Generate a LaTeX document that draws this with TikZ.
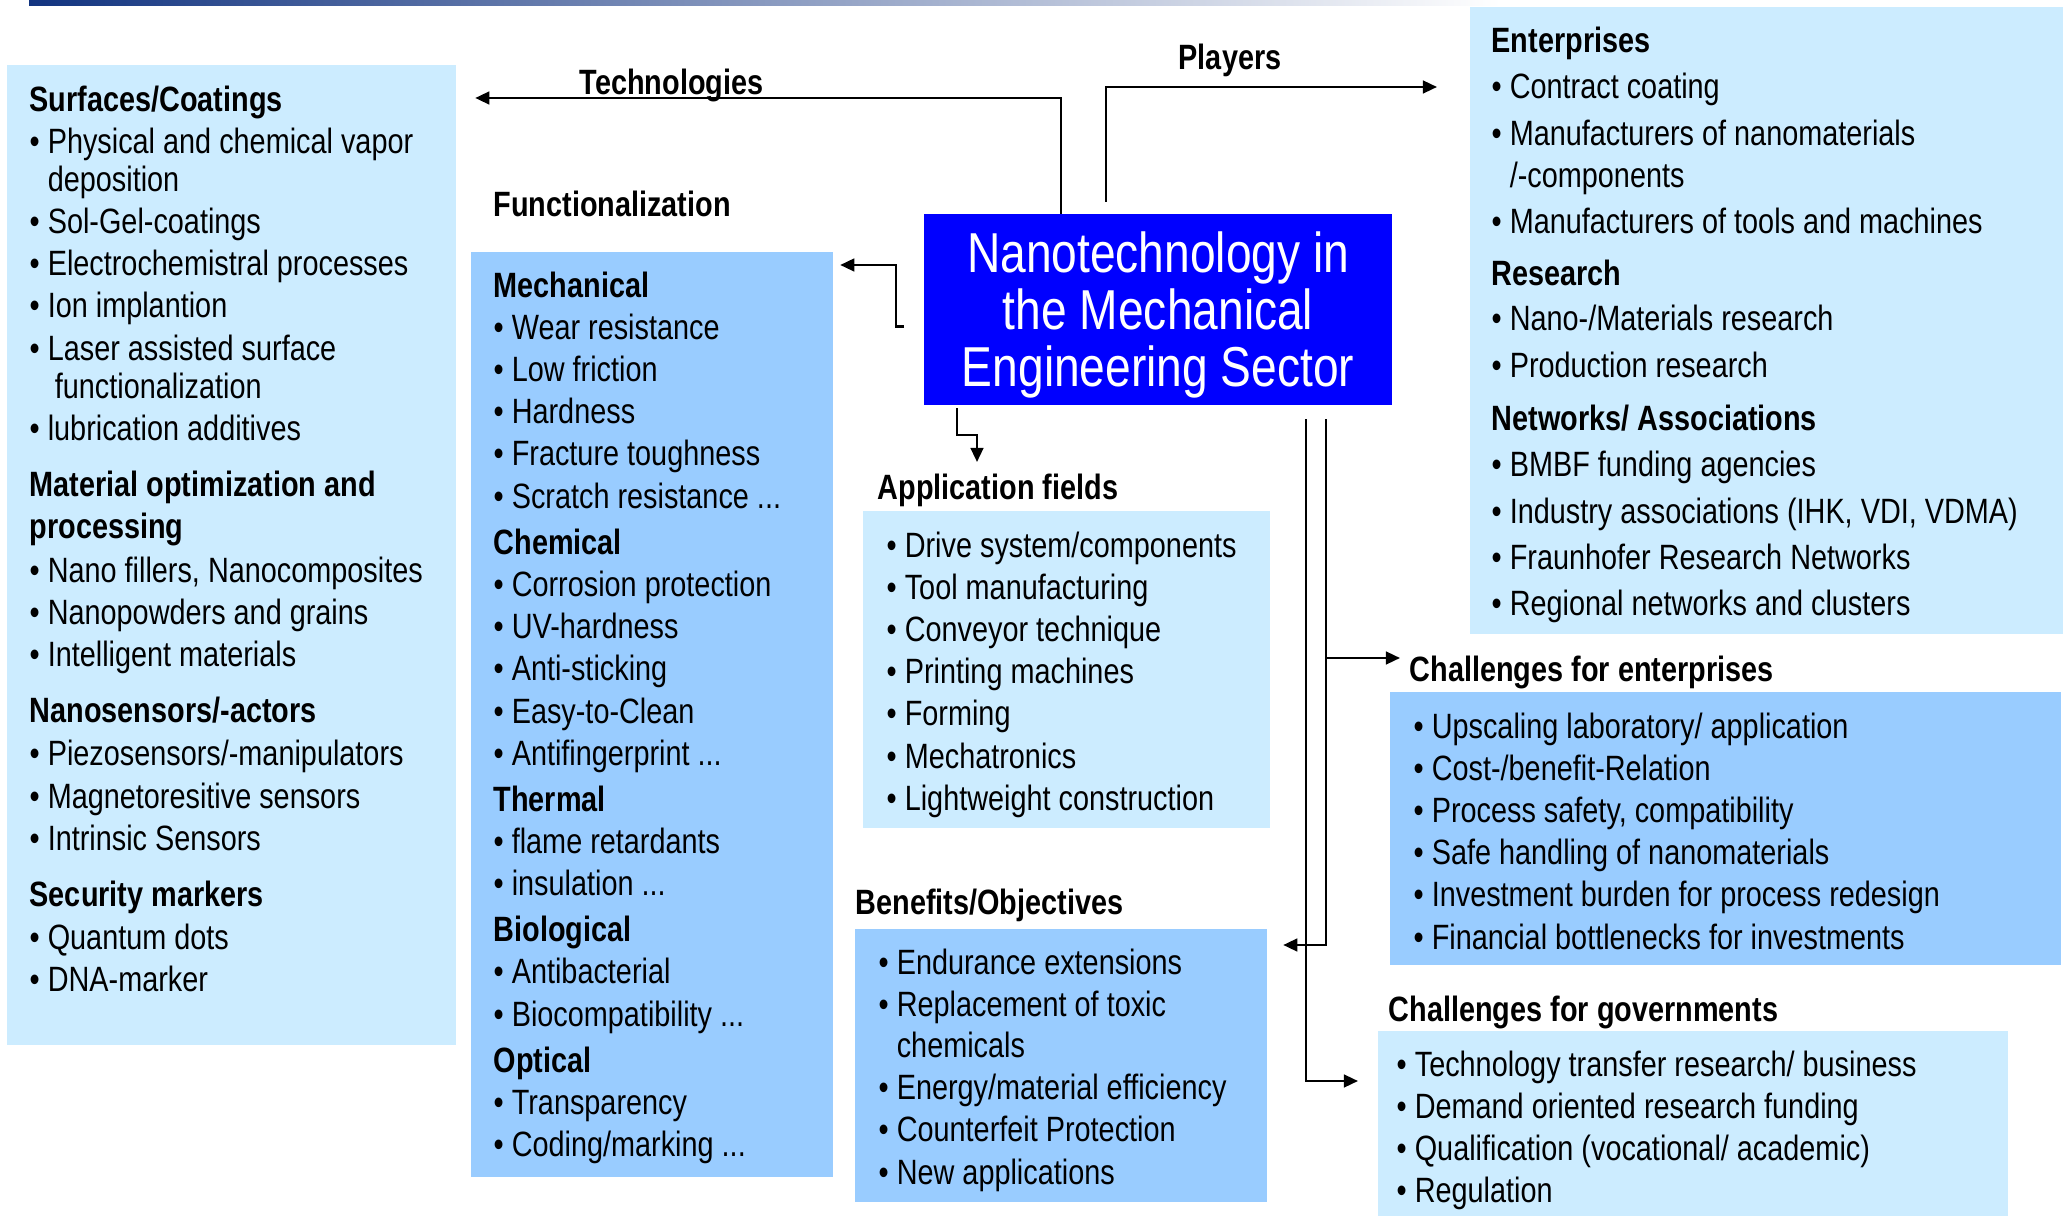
\documentclass[tikz,border=0pt]{standalone}
\usepackage{fontspec}
\setmainfont{Liberation Sans}[FakeStretch=0.82]
\usetikzlibrary{arrows.meta,positioning}

\definecolor{paleblue}{RGB}{204,236,255}
\definecolor{midblue}{RGB}{153,204,255}
\definecolor{coreblue}{RGB}{0,0,255}
\definecolor{rulenavy}{RGB}{18,52,128}
\definecolor{rulemid}{RGB}{70,130,200}

% bullet and the indent of a wrapped bullet line
\newcommand{\bul}{\textbullet\ }
\newcommand{\contd}{\phantom{\textbullet\ }}

\tikzset{
    panel/.style={anchor=north west, inner sep=0pt, outer sep=0pt},
    list/.style={anchor=north west, inner sep=0pt, align=left,
        font=\fontsize{10}{12}\selectfont},
    caption/.style={anchor=west, inner sep=0pt,
        font=\fontsize{10}{12}\selectfont\bfseries},
    link/.style={line width=0.7pt, -{Triangle[length=4pt,width=3.6pt]}}
}

\begin{document}
\begin{tikzpicture}[x=0.01cm, y=-0.01cm]
\useasboundingbox (0,0) rectangle (2067,1216);

% rule along the top
\shade[left color=rulenavy, middle color=rulemid, right color=white]
    (29,1) rectangle (1500,6);

% panels
\node[panel, fill=paleblue, minimum width=4.49cm, minimum height=9.79cm] (techs) at (7,65) {};
\node[panel, fill=midblue, minimum width=3.62cm, minimum height=9.24cm] (func) at (471,252) {};
\node[panel, fill=paleblue, minimum width=4.07cm, minimum height=3.17cm] (app) at (863,511) {};
\node[panel, fill=midblue, minimum width=4.12cm, minimum height=2.73cm] (bene) at (855,929) {};
\node[panel, fill=paleblue, minimum width=5.93cm, minimum height=6.27cm] (players) at (1470,7) {};
\node[panel, fill=midblue, minimum width=6.71cm, minimum height=2.73cm] (chent) at (1390,692) {};
\node[panel, fill=paleblue, minimum width=6.30cm, minimum height=1.85cm] (chgov) at (1378,1031) {};

% central box
\node[panel, fill=coreblue, text=white, minimum width=4.68cm, minimum height=1.91cm,
    align=center, text depth=0pt, font=\fontsize{16}{16.2}\selectfont] (core) at (924,214)
    {Nanotechnology in\\the Mechanical\\Engineering Sector};

% captions
\node[caption] (techcap) at (579,85) {Technologies};
\node[caption] (plycap) at (1178,60) {Players};
\node[caption] (funccap) at (493,204) {Functionalization};
\node[caption] (appcap) at (877,490) {Application fields};
\node[caption] (benecap) at (855,905) {Benefits/Objectives};
\node[caption] (chentcap) at (1409,672) {Challenges for enterprises};
\node[caption] (chgovcap) at (1388,1012) {Challenges for governments};

% lists
\node[list] (techlist) at (29,85) {%
    \textbf{Surfaces/Coatings}\\
    \bul Physical and chemical vapor\\[-1.2pt]
    \contd deposition\\
    \bul Sol-Gel-coatings\\
    \bul Electrochemistral processes\\
    \bul Ion implantion\\
    \bul Laser assisted surface\\[-1.2pt]
    \contd\hspace{2pt}functionalization\\
    \bul lubrication additives\\[3.9pt]
    \textbf{Material optimization and}\\
    \textbf{processing}\\[0.5pt]
    \bul Nano fillers, Nanocomposites\\
    \bul Nanopowders and grains\\
    \bul Intelligent materials\\[3.9pt]
    \textbf{Nanosensors/-actors}\\[0.3pt]
    \bul Piezosensors/-manipulators\\
    \bul Magnetoresitive sensors\\
    \bul Intrinsic Sensors\\[3.9pt]
    \textbf{Security markers}\\[0.3pt]
    \bul Quantum dots\\
    \bul DNA-marker};

\node[list] (funclist) at (493,271) {%
    \textbf{Mechanical}\\
    \bul Wear resistance\\
    \bul Low friction\\
    \bul Hardness\\
    \bul Fracture toughness\\
    \bul Scratch resistance ...\\[1.1pt]
    \textbf{Chemical}\\
    \bul Corrosion protection\\
    \bul UV-hardness\\
    \bul Anti-sticking\\
    \bul Easy-to-Clean\\
    \bul Antifingerprint ...\\[1.1pt]
    \textbf{Thermal}\\
    \bul flame retardants\\
    \bul insulation ...\\[1.1pt]
    \textbf{Biological}\\
    \bul Antibacterial\\
    \bul Biocompatibility ...\\[1.1pt]
    \textbf{Optical}\\
    \bul Transparency\\
    \bul Coding/marking ...};

\node[list] (applist) at (886,531) {%
    \bul Drive system/components\\
    \bul Tool manufacturing\\
    \bul Conveyor technique\\
    \bul Printing machines\\
    \bul Forming\\
    \bul Mechatronics\\
    \bul Lightweight construction};

\node[list] (benelist) at (878,948) {%
    \bul Endurance extensions\\
    \bul Replacement of toxic\\[-0.3pt]
    \contd chemicals\\
    \bul Energy/material efficiency\\
    \bul Counterfeit Protection\\
    \bul New applications};

\node[list, font=\fontsize{10}{13.2}\selectfont] (plylist) at (1491,26) {%
    \textbf{Enterprises}\\
    \bul Contract coating\\
    \bul Manufacturers of nanomaterials\\[-1.2pt]
    \contd/-components\\
    \bul Manufacturers of tools and machines\\[1.6pt]
    \textbf{Research}\\[-0.4pt]
    \bul Nano-/Materials research\\
    \bul Production research\\[1.9pt]
    \textbf{Networks/ Associations}\\
    \bul BMBF funding agencies\\
    \bul Industry associations (IHK, VDI, VDMA)\\
    \bul Fraunhofer Research Networks\\
    \bul Regional networks and clusters};

\node[list] (chentlist) at (1413,712) {%
    \bul Upscaling laboratory/ application\\
    \bul Cost-/benefit-Relation\\
    \bul Process safety, compatibility\\
    \bul Safe handling of nanomaterials\\
    \bul Investment burden for process redesign\\
    \bul Financial bottlenecks for investments};

\node[list] (chgovlist) at (1396,1050) {%
    \bul Technology transfer research/ business\\
    \bul Demand oriented research funding\\
    \bul Qualification (vocational/ academic)\\
    \bul Regulation};

% connectors
\coordinate (techtip) at ([shift={(19,33)}]techs.north east);
\coordinate (plytip) at ([shift={(-33,80)}]players.north west);
\coordinate (bus) at ([shift={(402,14)}]core.south west);
\coordinate (enttip) at ([shift={(10,-34)}]chent.north west);

\draw[link] ([shift={(137,0)}]core.north west) |- (techtip);
\draw[link] ([shift={(182,-12)}]core.north west) |- (plytip);
\draw[link] ([shift={(-20,17)}]core.west) -- ++(-8,0)
    |- ([shift={(7,13)}]func.north east);
\draw[link] ([shift={(33,3)}]core.south west) -- ++(0,27)
    -| ([shift={(114,-49)}]app.north west);
\draw[link] ([shift={(382,14)}]core.south west)
    |- ([shift={(-20,50)}]chgov.north west);
\draw[link] (bus) |- ([shift={(16,16)}]bene.north east);
\draw[link] (bus |- enttip) -- (enttip);
\end{tikzpicture}
\end{document}
